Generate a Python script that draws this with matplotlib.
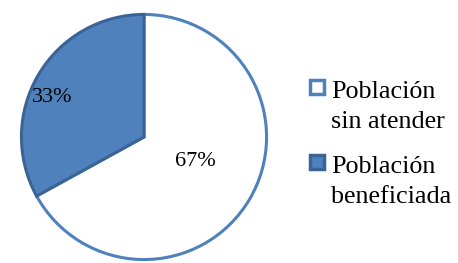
import matplotlib
matplotlib.use("Agg")
import matplotlib.pyplot as plt
from matplotlib.patches import Rectangle

labels = ["Población\nsin atender", "Población\nbeneficiada"]
values = [67, 33]
fills = ["#FFFFFF", "#4F81BD"]
edges = ["#4F81BD", "#3A6396"]

plt.rcParams['font.family'] = ['Liberation Serif', 'DejaVu Serif']

W, H = 458, 263
fig = plt.figure(figsize=(W / 100, H / 100), dpi=100)
ax = fig.add_axes([(144 - 125) / W, (H - 137 - 125) / H, 250 / W, 250 / H])

wedges, texts, autotexts = ax.pie(values, colors=fills, startangle=90, counterclock=False,
                                  autopct=lambda p: f"{p:.0f}%", radius=1.0,
                                  textprops=dict(fontsize=16, color="black"))
for w, ec in zip(wedges, edges):
    w.set_edgecolor(ec)
    w.set_linewidth(2.2)
    w.set_joinstyle('miter')
autotexts[0].set_position((0.42, -0.20))
autotexts[1].set_position((-0.752, 0.32))
ax.set_xlim(-1.02, 1.02)
ax.set_ylim(-1.02, 1.02)
ax.set_aspect('equal')
ax.axis('off')

# legend drawn manually so the key aligns with the first text line
for i, (lab, f, e) in enumerate(zip(labels, fills, edges)):
    top = 98 + 75 * i  # baseline of first line, px from top
    cy = top - 11
    s = 14
    fig.add_artist(Rectangle(((316.5 - s / 2) / W, 1 - (cy + s / 2) / H), s / W, s / H,
                             facecolor=f, edgecolor=e, linewidth=2.5,
                             transform=fig.transFigure))
    for j, line in enumerate(lab.split("\n")):
        fig.text(331 / W, 1 - (top + 30 * j) / H, line, fontsize=18.8,
                 ha='left', va='baseline', color='black')

fig.savefig("out.png", dpi=100)
